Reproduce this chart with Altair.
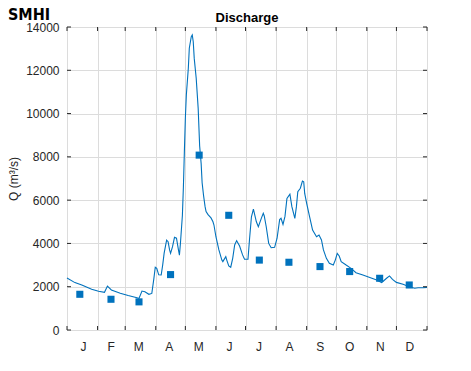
import altair as alt
import pandas as pd

# Daily discharge (day of year, m3/s)
days = [0, 8, 15, 25, 32, 38, 41, 45, 54, 62, 71, 73, 76, 79, 83, 86, 88, 89.5, 91, 93,
        95.5, 97, 98.5, 101, 102.5, 104, 105, 107, 109, 111, 113, 114, 115, 117, 118, 119,
        120, 121, 123, 124, 126, 127, 128, 129, 131, 133, 134.5, 136, 137, 138.5, 140, 141,
        143, 146, 148, 149, 151, 154, 157, 158, 161, 162, 164, 166, 168, 170, 172, 175, 178,
        180, 183.5, 185, 187, 189, 190, 192, 194, 197, 199, 200, 202, 204.5, 207, 210.5, 213,
        215.6, 217, 219, 221, 223, 226, 228, 231, 232.6, 234, 236.6, 238.7, 240, 241, 243,
        246, 249, 253, 255.5, 258, 260, 263, 266, 270, 272, 274, 276, 278, 283, 288, 293,
        300, 307, 314, 319, 320, 324, 327, 330, 334, 340.7, 347, 352.5, 356, 361, 365]
flow = [2400, 2190, 2080, 1880, 1790, 1740, 2030, 1850, 1700, 1590, 1490, 1460, 1800, 1770,
        1650, 1690, 2350, 2900, 2850, 2550, 2540, 3000, 3550, 4150, 4080, 3700, 3540, 3850,
        4280, 4240, 3700, 3460, 4000, 5300, 6600, 8240, 9780, 10860, 12090, 13020, 13550,
        13630, 13320, 12550, 11630, 10240, 8500, 7700, 6800, 6200, 5700, 5470, 5330, 5180,
        5000, 4850, 4310, 3700, 3230, 3160, 3390, 3230, 2960, 2900, 3310, 3930, 4130, 3880,
        3470, 3270, 3270, 4160, 5230, 5580, 5390, 5000, 4770, 5160, 5390, 5270, 4770, 4000,
        3800, 3820, 4240, 5100, 5160, 4880, 5250, 6080, 6280, 5700, 5160, 5700, 6390, 6550,
        6880, 6850, 6310, 5850, 5230, 4620, 4310, 4390, 4160, 3700, 3310, 3080, 3000, 3230,
        3540, 3420, 3160, 3000, 2850, 2650, 2540, 2430, 2310, 2190, 2230, 2390, 2500, 2340,
        2200, 2110, 2000, 1930, 1950, 1950, 1970]

# Monthly means
mean_days = [13, 44.6, 73, 105, 134, 164, 195, 225, 256.5, 286.6, 317, 347]
mean_flow = [1650, 1420, 1300, 2560, 8080, 5300, 3230, 3130, 2930, 2700, 2390, 2080]

month_starts = [0, 31, 59, 90, 120, 151, 181, 212, 243, 273, 304, 334]
month_labels = ["J", "F", "M", "A", "M", "J", "J", "A", "S", "O", "N", "D"]
y_ticks = [0, 2000, 4000, 6000, 8000, 10000, 12000, 14000]

W, H = 360, 303
BLUE = "#0072BD"
TXT = "#262626"
FONT = "Liberation Sans"

line_df = pd.DataFrame({"day": days, "q": flow})
mean_df = pd.DataFrame({"day": mean_days, "q": mean_flow})
xt_df = pd.DataFrame({"day": month_starts + [365]})
yt_df = pd.DataFrame({"q": y_ticks})

lbl_arr = "[" + ",".join("'%s'" % m for m in month_labels) + "]"
pos_arr = "[" + ",".join(str(v) for v in month_starts) + "]"

xscale = alt.Scale(domain=[0, 365], nice=False, zero=False)
yscale = alt.Scale(domain=[0, 14000], nice=False)

AX_X = alt.Axis(values=month_starts, title=None, grid=True, ticks=False, domain=False,
                labelExpr=lbl_arr + "[indexof(" + pos_arr + ", datum.value)]",
                labelOffset=13, labelPadding=11, labelFontSize=12, labelColor=TXT,
                labelFont=FONT, gridColor="#dcdcdc")
AX_Y = alt.Axis(values=y_ticks, format="d", title="Q (m³/s)", grid=True, ticks=False,
                domain=False, labelPadding=8, labelFontSize=12, labelColor=TXT,
                labelFont=FONT, titleFont=FONT, titleFontSize=12, titleFontWeight="normal",
                titleColor=TXT, titlePadding=5, gridColor="#dcdcdc")

X = alt.X("day:Q", scale=xscale, axis=AX_X)
Y = alt.Y("q:Q", scale=yscale, axis=AX_Y)

line = alt.Chart(line_df).mark_line(color=BLUE, strokeWidth=1.1).encode(x=X, y=Y)

squares = alt.Chart(mean_df).mark_square(size=50, color=BLUE, opacity=1).encode(x=X, y=Y)

tk = dict(color=TXT, strokeWidth=1)
xt_bot = alt.Chart(xt_df).mark_rule(**tk).encode(x=X, y=alt.value(H), y2=alt.value(H - 4))
xt_top = alt.Chart(xt_df).mark_rule(**tk).encode(x=X, y=alt.value(0), y2=alt.value(4))
yt_left = alt.Chart(yt_df).mark_rule(**tk).encode(y=Y, x=alt.value(0), x2=alt.value(4))
yt_right = alt.Chart(yt_df).mark_rule(**tk).encode(y=Y, x=alt.value(W), x2=alt.value(W - 4))

logo = alt.Chart(pd.DataFrame({"t": ["SMHI"]})).mark_text(
    font="DejaVu Sans Condensed", fontWeight="bold", fontSize=16, align="left",
    baseline="alphabetic", color="black").encode(
    text="t:N", x=alt.value(-59), y=alt.value(-7))

title = alt.Chart(pd.DataFrame({"t": ["Discharge"]})).mark_text(
    font=FONT, fontWeight="bold", fontSize=13, align="center",
    baseline="alphabetic", color="black").encode(
    text="t:N", x=alt.value(W / 2), y=alt.value(-5))

chart = alt.layer(line, squares, xt_bot, xt_top, yt_left, yt_right, logo, title).properties(
    width=W, height=H,
    autosize=alt.AutoSizeParams(type="none"),
    padding={"left": 59, "top": 19, "right": 36, "bottom": 33},
).configure_view(stroke=TXT, strokeWidth=1).configure(background="white")

chart.save("out.html", embed_options={"renderer": "svg", "actions": False})
